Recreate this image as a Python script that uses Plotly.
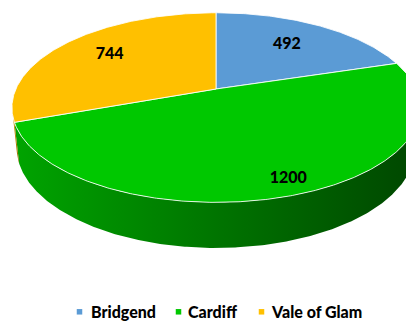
import math
import plotly.graph_objects as go

# Data
districts = ["Bridgend", "Cardiff", "Vale of Glam"]
counts = [492, 1200, 744]

# Styling
top_colors = ["#5b9bd5", "#00c800", "#ffc000"]
side_scales = [
    [[0, "#4a7fb0"], [1, "#25476a"]],
    [[0, "#00a400"], [0.5, "#007400"], [1, "#004600"]],
    [[0, "#d9a300"], [1, "#8a6600"]],
]
label_radius = [0.66, 0.88, 0.70]     # fraction of the disc radius
label_turn = [0.0, -1.5, 0.0]         # small angular nudge (degrees)
FONT = "Lato"
WEIGHT = 900

# Camera / disc geometry for the 3-D look
TILT = math.radians(27.1)
DIST = 4.547
FOCAL = 910.0
THICK = 0.226
COS_T, SIN_T = math.cos(TILT), math.sin(TILT)

W, H = 406, 322


def project(theta_deg, r=1.0, height=0.0):
    """Project a point on the disc (angle clockwise from the far side) to screen units."""
    t = math.radians(theta_deg)
    X, Z, Y = r * math.sin(t), r * math.cos(t), height
    yv = Y * COS_T + Z * SIN_T
    zv = DIST + Z * COS_T - Y * SIN_T
    return FOCAL * X / zv, FOCAL * yv / zv


def arc(a0, a1, r=1.0, height=0.0, n=None):
    if n is None:
        n = max(2, int(abs(a1 - a0) / 0.5) + 1)
    pts = [project(a0 + (a1 - a0) * i / (n - 1), r, height) for i in range(n)]
    return [p[0] for p in pts], [p[1] for p in pts]


total = sum(counts)
starts, ends = [], []
acc = 0.0
for v in counts:
    starts.append(acc / total * 360.0)
    acc += v
    ends.append(acc / total * 360.0)

# silhouette angles of the rim facing the viewer
sil = math.degrees(math.acos(-COS_T / DIST))
vis_lo, vis_hi = sil, 360.0 - sil

fig = go.Figure()

# Rim (side wall) of each slice, front part only
for name, a0, a1, scale in zip(districts, starts, ends, side_scales):
    lo, hi = max(a0, vis_lo), min(a1, vis_hi)
    if hi <= lo:
        continue
    tx, ty = arc(lo, hi, 1.0, 0.0)
    bx, by = arc(hi, lo, 1.0, -THICK)
    fig.add_trace(go.Scatter(
        x=tx + bx + [tx[0]], y=ty + by + [ty[0]],
        mode="lines", fill="toself",
        fillgradient=dict(type="horizontal", colorscale=scale),
        line=dict(width=0, color="rgba(0,0,0,0)"),
        hoverinfo="skip", showlegend=False,
    ))

# Top faces
cx, cy = project(0, 0.0, 0.0)
for name, a0, a1, col in zip(districts, starts, ends, top_colors):
    ax, ay = arc(a0, a1, 1.0, 0.0)
    fig.add_trace(go.Scatter(
        x=[cx] + ax + [cx], y=[cy] + ay + [cy],
        mode="lines", fill="toself", fillcolor=col,
        line=dict(width=1, color="rgba(255,255,255,0.85)"),
        hoverinfo="skip", showlegend=False,
    ))

# Value labels
lx, ly = [], []
for a0, a1, r, turn in zip(starts, ends, label_radius, label_turn):
    px, py = project((a0 + a1) / 2 + turn, r, 0.0)
    lx.append(px)
    ly.append(py)
fig.add_trace(go.Scatter(
    x=lx, y=ly, mode="text", text=[str(v) for v in counts],
    textfont=dict(family=FONT, size=16, color="black", weight=WEIGHT),
    hoverinfo="skip", showlegend=False,
))

# Legend row along the bottom: small square key + name
legend_key_x = [79.5, 178.5, 261.5]   # pixel centres of the key squares
legend_text_x = [89.0, 186.0, 269.0]  # pixel left edge of the names
legend_y = 311.8
key = 5.5
shapes, annotations = [], []
for name, col, kx, tx in zip(districts, top_colors, legend_key_x, legend_text_x):
    shapes.append(dict(
        type="rect", xref="paper", yref="paper", line=dict(width=0), fillcolor=col,
        x0=(kx - key / 2) / W, x1=(kx + key / 2) / W,
        y0=1 - (legend_y + key / 2) / H, y1=1 - (legend_y - key / 2) / H,
    ))
    annotations.append(dict(
        text=name, xref="paper", yref="paper", x=tx / W, y=1 - legend_y / H,
        xanchor="left", yanchor="middle", showarrow=False,
        font=dict(family=FONT, size=16, color="black", weight=WEIGHT),
    ))

fig.update_layout(
    width=W, height=H,
    margin=dict(l=0, r=0, t=0, b=0),
    paper_bgcolor="white", plot_bgcolor="white",
    xaxis=dict(range=[-216, W - 216], visible=False, fixedrange=True),
    yaxis=dict(range=[89 - H, 89], visible=False, fixedrange=True),
    showlegend=False,
    shapes=shapes, annotations=annotations,
)

fig.write_html("out.html")
